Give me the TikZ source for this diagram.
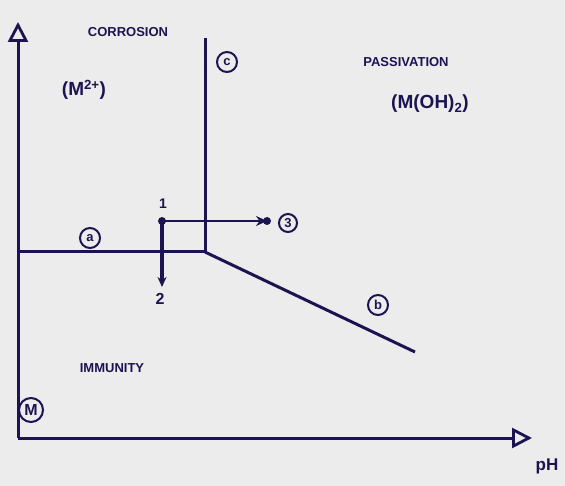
\documentclass[tikz,border=0pt]{standalone}
\usepackage{fontspec}
\setmainfont{Liberation Sans}
\usetikzlibrary{arrows.meta}
\definecolor{ink}{HTML}{1C1450}
\definecolor{paper}{HTML}{ECECEC}
\begin{document}
\begin{tikzpicture}[x=1pt,y=-1pt,
  line/.style={draw=ink, line width=3pt},
  axis/.style={draw=ink, line width=3pt, -{Triangle[open, length=20pt, width=20pt, line width=2.8pt]}},
  region/.style={text=ink, font=\bfseries\fontsize{13}{15}\selectfont},
  circ/.style={circle, draw=ink, line width=2pt, inner sep=1pt, minimum size=20pt, text=ink, font=\bfseries\fontsize{13}{15}\selectfont},
  lbl/.style={text=ink, font=\bfseries\fontsize{14}{16}\selectfont}]
\fill[paper] (0,0) rectangle (565,486);
\useasboundingbox (0,0) rectangle (565,486);
% axes
\coordinate (O) at (18,438);
\coordinate (ytop) at (18,22);
\coordinate (xend) at (532,438);
\draw[axis] (O) -- (ytop);
\draw[axis] (O) -- (xend);
\node[lbl, font=\bfseries\fontsize{17}{19}\selectfont] (ph) at (547,466) {pH};
% boundary lines
\coordinate (ctop) at (205,38);
\coordinate (T) at (205,252);
\coordinate (aleft) at (18,252);
\coordinate (bend) at (415,352);
\draw[line] (ctop) -- (T);
\draw[line] (aleft) -- (T);
\draw[line] (T) -- (bend);
% point 1 and paths
\coordinate (P1) at (162,221);
\coordinate (P3) at (267,221);
\coordinate (P2) at (162,287);
\fill[ink] (P1) circle (4pt);
\fill[ink] (P3) circle (4pt);
\draw[ink, line width=2.6pt, -{Stealth[length=11pt,width=10pt]}] (P1) -- (P3);
\draw[ink, line width=3.4pt, -{Stealth[length=10pt,width=9pt]}] (P1) -- (P2);
\node[lbl] (n1) at (163,204) {1};
\node[circ, minimum size=18pt] (n3) at (288,223) {3};
\node[lbl, font=\bfseries\fontsize{16}{18}\selectfont] (n2) at (160,299) {2};
% region labels
\node[region] (corr) at (128,32) {CORROSION};
\node[region, font=\bfseries\fontsize{19}{21}\selectfont] (mion) at (84,90) {(M\textsuperscript{2+})};
\node[region] (pass) at (406,62) {PASSIVATION};
\node[region, font=\bfseries\fontsize{19}{21}\selectfont] (moh) at (430,104) {(M(OH)\textsubscript{2})};
\node[region] (imm) at (112,368) {IMMUNITY};
% circled line labels
\node[circ] (lc) at (227,62) {c};
\node[circ] (la) at (90,238) {a};
\node[circ] (lb) at (378,305) {b};
\node[circ, minimum size=24pt, font=\bfseries\fontsize{16}{18}\selectfont] (lm) at (31,410) {M};
\end{tikzpicture}
\end{document}
